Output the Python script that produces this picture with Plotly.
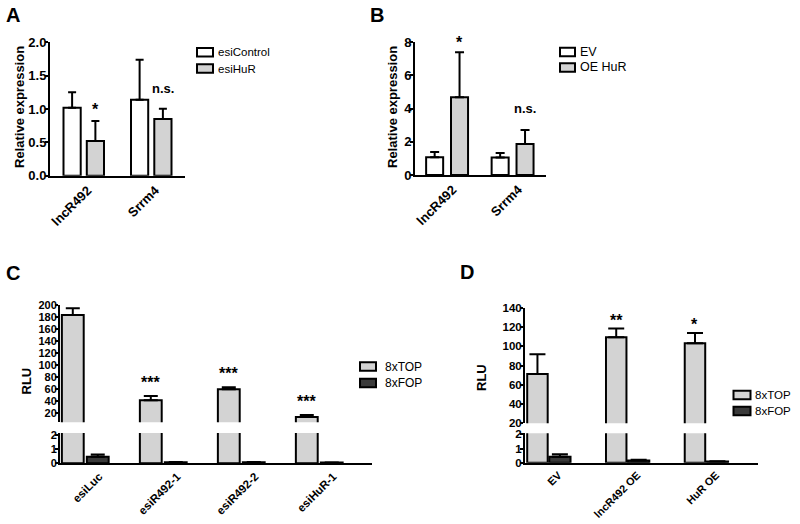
import plotly.graph_objects as go

# ---------------- data ----------------
A_categories = ["lncR492", "Srrm4"]
A_control = [1.02, 1.14]
A_control_err = [0.23, 0.60]
A_hur = [0.52, 0.85]
A_hur_err = [0.30, 0.155]
A_sig = ["*", "n.s."]

B_categories = ["lncR492", "Srrm4"]
B_ev = [1.07, 1.05]
B_ev_err = [0.32, 0.28]
B_oe = [4.68, 1.87]
B_oe_err = [2.72, 0.84]
B_sig = ["*", "n.s."]

C_categories = ["esiLuc", "esiR492-1", "esiR492-2", "esiHuR-1"]
C_top = [183.4, 41.7, 60.0, 14.0]
C_top_err = [11.1, 7.1, 3.3, 3.3]
C_fop = [0.47, 0.07, 0.08, 0.05]
C_fop_err = [0.16, 0.02, 0.02, 0.01]
C_sig = ["", "***", "***", "***"]

D_categories = ["EV", "lncR492 OE", "HuR OE"]
D_top = [71.1, 109.6, 103.3]
D_top_err = [20.6, 9.1, 10.8]
D_fop = [0.42, 0.16, 0.09]
D_fop_err = [0.17, 0.05, 0.02]
D_sig = ["", "**", "*"]

# ---------------- style ----------------
W, H = 800, 524
FONT = "Liberation Sans, Arial, sans-serif"
WHITE = "#ffffff"
LIGHT = "#d3d3d3"
DARK = "#3a3a3a"


def px(x):
    return x / W


def py(y):
    return 1 - y / H


fig = go.Figure()


def bar(xcat, vals, errs, fill, xa, ya, off, wid, capw, name):
    fig.add_trace(go.Bar(
        x=xcat, y=vals, name=name, xaxis=xa, yaxis=ya,
        offset=off, width=wid, showlegend=False, hoverinfo="skip",
        marker=dict(color=fill, line=dict(color="black", width=2)),
        error_y=dict(type="data", array=errs, arrayminus=[0] * len(errs),
                     symmetric=False, color="black", thickness=2, width=capw),
    ))


# Panel A
bar(A_categories, A_control, A_control_err, WHITE, "x", "y", -0.30, 0.255, 4, "esiControl")
bar(A_categories, A_hur, A_hur_err, LIGHT, "x", "y", 0.045, 0.255, 4, "esiHuR")
# Panel B
bar(B_categories, B_ev, B_ev_err, WHITE, "x2", "y2", -0.33, 0.26, 4.5, "EV")
bar(B_categories, B_oe, B_oe_err, LIGHT, "x2", "y2", 0.05, 0.26, 4.5, "OE HuR")
# Panel C (broken axis: upper y3, lower y4)
bar(C_categories, C_top, C_top_err, LIGHT, "x3", "y3", -0.30, 0.28, 7, "8xTOP")
bar(C_categories, C_top, C_top_err, LIGHT, "x3", "y4", -0.30, 0.28, 7, "8xTOP")
bar(C_categories, C_fop, C_fop_err, DARK, "x3", "y4", 0.02, 0.28, 7, "8xFOP")
# Panel D (broken axis: upper y5, lower y6)
bar(D_categories, D_top, D_top_err, LIGHT, "x4", "y5", -0.27, 0.26, 8, "8xTOP")
bar(D_categories, D_top, D_top_err, LIGHT, "x4", "y6", -0.27, 0.26, 8, "8xTOP")
bar(D_categories, D_fop, D_fop_err, DARK, "x4", "y6", 0.01, 0.27, 8, "8xFOP")


def yax(dom, rng, anchor, size, **kw):
    d = dict(domain=[py(dom[1]), py(dom[0])], range=rng, anchor=anchor, automargin=False,
             showline=True, linewidth=2, linecolor="black", showgrid=False,
             zeroline=False, ticks="outside", ticklen=3, tickwidth=2, tickcolor="black",
             ticklabelstandoff=-4,
             tickfont=dict(family=FONT, size=size, color="black", weight="bold"))
    d.update(kw)
    return d


def xax(dom, rng, anchor, cats, size, shift):
    return dict(domain=[px(dom[0]), px(dom[1])], range=rng, anchor=anchor, automargin=False,
                type="category", categoryorder="array", categoryarray=cats,
                showline=True, linewidth=2, linecolor="black", showgrid=False,
                zeroline=False, ticks="", tickangle=-45, ticklabelshift=shift,
                tickfont=dict(family=FONT, size=size, color="black", weight="bold"))


fig.update_layout(
    template="none",
    width=W, height=H, margin=dict(l=0, r=0, t=0, b=0, pad=0), autosize=False,
    paper_bgcolor="white", plot_bgcolor="white", showlegend=False,
    font=dict(family=FONT, color="black"),
    xaxis=xax((50, 185), [-0.5, 1.5], "y", A_categories, 13, 4),
    yaxis=yax((42.3, 175.7), [0, 2], "x", 13, tickvals=[0, 0.5, 1, 1.5, 2], tickformat=".1f"),
    xaxis2=xax((415, 546), [-0.5, 1.5], "y2", B_categories, 13, 5),
    yaxis2=yax((42.3, 175), [0, 8], "x2", 13, tickvals=[0, 2, 4, 6, 8]),
    xaxis3=xax((60, 372), [-0.324, 3.676], "y4", C_categories, 11.5, 14),
    yaxis3=yax((305, 422.3), [5, 200], "x3", 11, tickvals=list(range(20, 201, 20))),
    yaxis4=yax((433, 463.3), [0, 2.14], "x3", 11, tickvals=[0, 1, 2]),
    xaxis4=xax((525, 758), [-0.298, 2.66], "y6", D_categories, 10.8, 10),
    yaxis5=yax((308.3, 423.2), [19.5, 140], "x4", 11.5, tickvals=list(range(20, 141, 20))),
    yaxis6=yax((433.2, 462.7), [0, 2.08], "x4", 11.5, tickvals=[0, 1, 2]),
)

ann = []
shapes = []


def sig(labels, vals, errs, xref, yref, off, wid, size, star_shift, ns_shift):
    for i, (lab, v, e) in enumerate(zip(labels, vals, errs)):
        if not lab:
            continue
        ann.append(dict(x=i + off + wid / 2, y=v + e, xref=xref, yref=yref, text=lab,
                        showarrow=False, yanchor="bottom", xanchor="center",
                        yshift=(ns_shift if lab == "n.s." else star_shift),
                        font=dict(family=FONT, size=(13 if lab == "n.s." else size),
                                  color="black", weight="bold")))


sig(A_sig, A_hur, A_hur_err, "x", "y", 0.045, 0.255, 16, 1, 11)
sig(B_sig, B_oe, B_oe_err, "x2", "y2", 0.05, 0.26, 16, -1, 12)
sig(C_sig, C_top, C_top_err, "x3", "y3", -0.30, 0.28, 16, 3, 12)
sig(D_sig, D_top, D_top_err, "x4", "y5", -0.27, 0.26, 16, -2, 12)


def text(x, y, s, size, bold=False, angle=0, anchor="center"):
    ann.append(dict(x=px(x), y=py(y), xref="paper", yref="paper", text=s, showarrow=False,
                    xanchor=anchor, yanchor="middle", textangle=angle,
                    font=dict(family=FONT, size=size, color="black",
                              weight=("bold" if bold else "normal"))))


# panel letters
text(12.5, 14.5, "A", 20, True)
text(377, 14.5, "B", 20, True)
text(12.5, 273, "C", 20, True)
text(467, 272, "D", 20, True)

# axis titles
text(19, 107, "Relative expression", 13, True, -90)
text(392, 107, "Relative expression", 13, True, -90)
text(25.5, 381, "RLU", 13, True, -90)
text(481.5, 377.5, "RLU", 13, True, -90)


def legend(x0, x1, ys, fills, labels, tx, size, h=8.5):
    for yc, f, lab in zip(ys, fills, labels):
        shapes.append(dict(type="rect", xref="paper", yref="paper",
                           x0=px(x0), x1=px(x1), y0=py(yc + h / 2), y1=py(yc - h / 2),
                           fillcolor=f, line=dict(color="black", width=2)))
        text(tx, yc, lab, size, False, 0, "left")


legend(197, 213, [52.2, 68.5], [WHITE, LIGHT], ["esiControl", "esiHuR"], 216, 11.5)
legend(560, 575, [52, 67.5], [WHITE, LIGHT], ["EV", "OE HuR"], 578, 12.5)
legend(360, 376, [366.5, 383], [LIGHT, DARK], ["8xTOP", "8xFOP"], 383, 12)
legend(733.5, 750.5, [395, 411], [LIGHT, DARK], ["8xTOP", "8xFOP"], 753, 11.5)

fig.update_layout(annotations=ann, shapes=shapes)
fig.write_html("out.html", config={"displayModeBar": False},
               post_script="document.body.style.margin='0';document.body.style.padding='0';")
